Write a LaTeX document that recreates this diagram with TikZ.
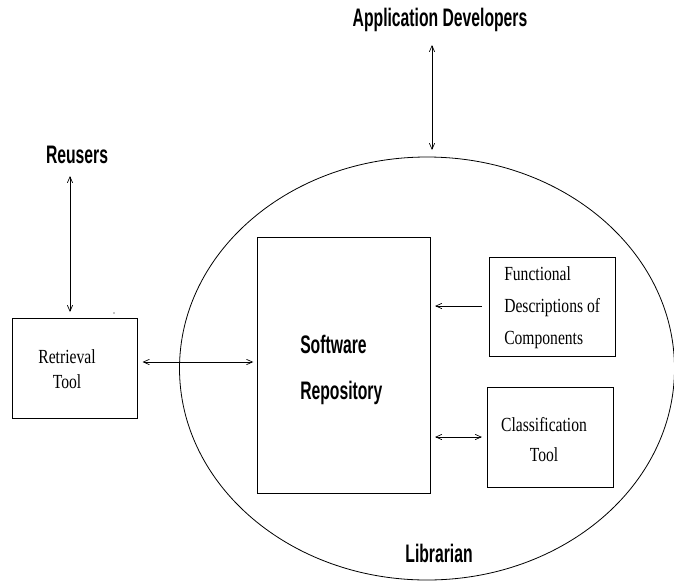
\documentclass[tikz,border=0pt]{standalone}
\usepackage{fontspec}
\usetikzlibrary{arrows.meta,shapes.geometric}
\newfontfamily\sfbold[FakeStretch=0.62]{Liberation Sans}
\newfontfamily\tmsfont[FakeStretch=0.78]{Liberation Serif}
\begin{document}
\begin{tikzpicture}[x=0.75pt,y=-0.75pt,
  boxst/.style={draw, line width=0.6pt, rectangle, inner sep=0pt},
  lbl/.style={font=\sfbold\bfseries\fontsize{19}{22}\selectfont, inner sep=0pt},
  srf/.style={inner sep=0pt},
  conn/.style={line width=0.5pt, {Straight Barb[length=4.5pt,width=4pt]}-{Straight Barb[length=4.5pt,width=4pt]}},
  conn1/.style={line width=0.5pt, -{Straight Barb[length=4.5pt,width=4pt]}}]
\useasboundingbox (0,0) rectangle (674,582);
\clip (0,0) rectangle (674,582);
\fill[white] (0,0) rectangle (674,582);
% librarian ellipse
\node[ellipse, draw, line width=0.6pt, inner sep=0pt, minimum width=371.25pt, minimum height=317.25pt] (lib) at (427,368.5) {};
% boxes
\node[boxst, minimum width=93.75pt, minimum height=75pt] (ret) at (75,368) {};
\node[boxst, minimum width=129.75pt, minimum height=192pt] (soft) at (343.5,365) {};
\node[boxst, minimum width=94.5pt, minimum height=74.25pt] (func) at (552,306.5) {};
\node[boxst, minimum width=94.5pt, minimum height=75pt] (cls) at (550,437) {};
% texts
\node[lbl] (appdev) at (440,20) {Application Developers};
\node[lbl] (reus) at (77,155) {Reusers};
\node[lbl] (libt) at (439,553) {Librarian};
\node[lbl, anchor=west, align=left, font=\sfbold\bfseries\fontsize{19}{34.5}\selectfont] (softt) at (300,370) {Software\\Repository};
\node[srf, align=center, font=\tmsfont\fontsize{15}{18.75}\selectfont] (rett) at (67,369.5) {Retrieval\\Tool};
\node[srf, anchor=west, align=left, font=\tmsfont\fontsize{15}{24}\selectfont] (funct) at (504,308) {Functional\\Descriptions of\\Components};
\node[srf, align=center, font=\tmsfont\fontsize{15}{22.5}\selectfont] (clst) at (544,440) {Classification\\Tool};
% connectors
\coordinate (ad1) at (432,45);
\coordinate (ad2) at (432,150);
\draw[conn] (ad1) -- (ad2);
\coordinate (ru1) at (70,176);
\coordinate (ru2) at (70,312);
\draw[conn] (ru1) -- (ru2);
\draw[conn] ([xshift=3.5pt]ret.east |- 0,362) -- ([xshift=-2.5pt]soft.west |- 0,362);
\draw[conn1] ([xshift=-5pt]func.west |- 0,306) -- ([xshift=3.5pt]soft.east |- 0,306);
\draw[conn] ([xshift=3.5pt]soft.east |- 0,437) -- ([xshift=-3.5pt]cls.west |- 0,437);
\fill (114,313) circle (0.5pt);
\end{tikzpicture}
\end{document}
